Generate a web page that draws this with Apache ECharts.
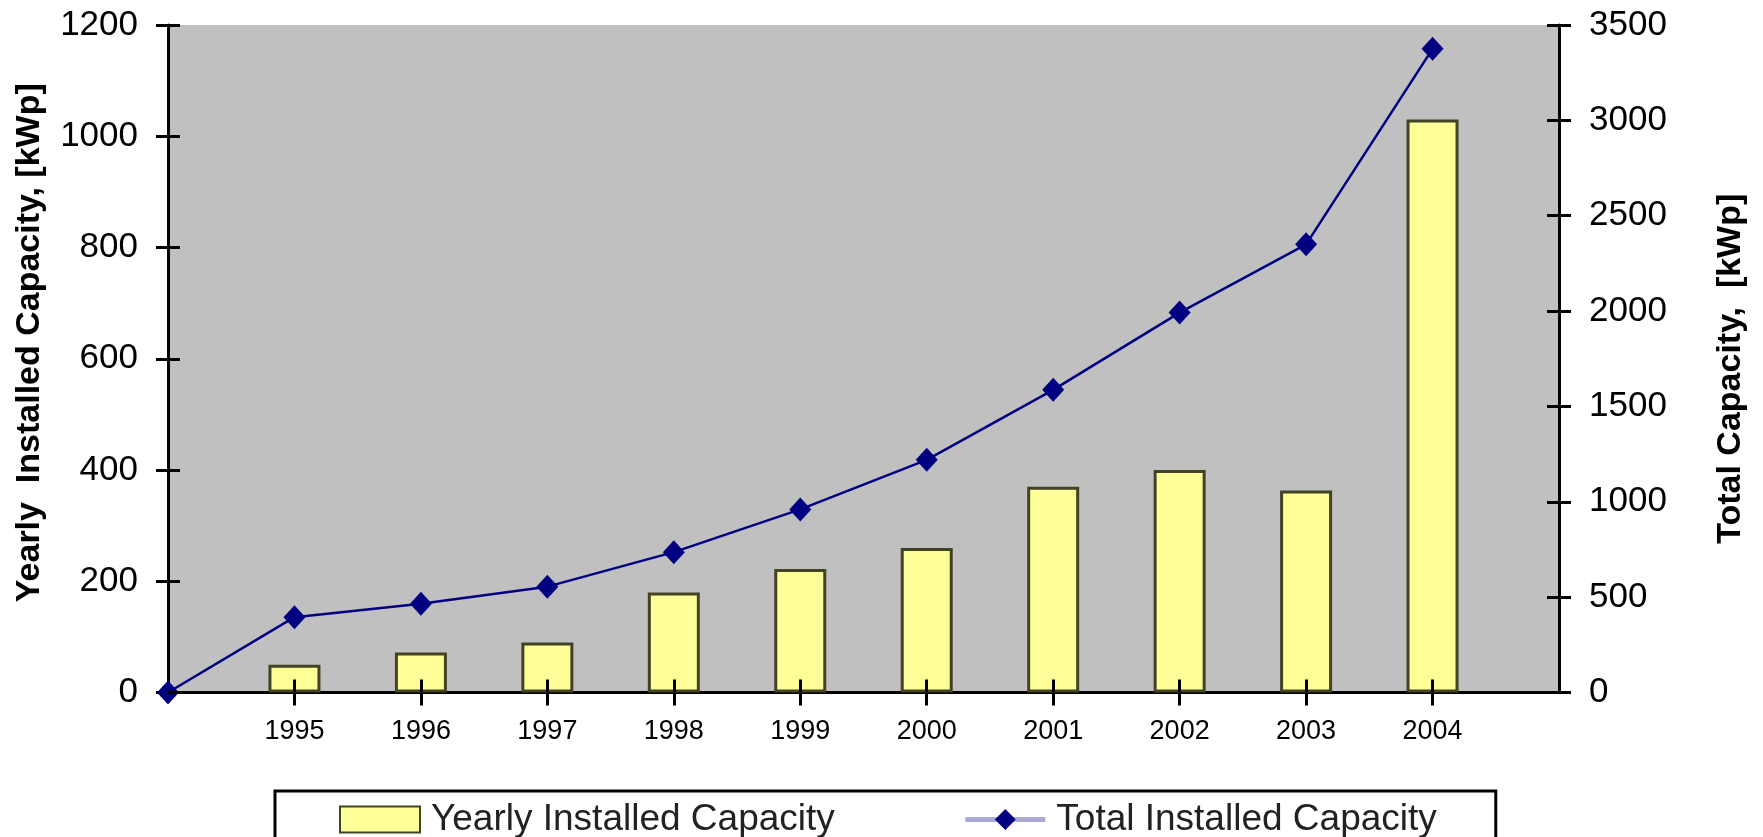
<!DOCTYPE html>
<html>
<head>
<meta charset="utf-8">
<script src="https://cdn.jsdelivr.net/npm/echarts@6/dist/echarts.min.js"></script>
<style>
  html, body { margin: 0; padding: 0; background: #fff; }
  #chart { width: 1763px; height: 837px; }
</style>
</head>
<body>
<div id="chart"></div>
<script>
// Categories (first and last slots are empty, as in the original)
const categories = ['', '1995', '1996', '1997', '1998', '1999', '2000', '2001', '2002', '2003', '2004', ''];
// Yearly installed capacity [kWp] (left axis)
const yearlyCapacity = ['-', 50, 72, 90, 180, 222, 260, 370, 400, 363, 1030, '-'];
// Total installed capacity [kWp] (right axis)
const totalCapacity = [0, 395, 465, 555, 736, 960, 1220, 1587, 1992, 2350, 3375, '-'];
// Axis ranges / tick steps
const leftAxisTicks = { min: 0, max: 1200, interval: 200 };
const rightAxisTicks = { min: 0, max: 3500, interval: 500 };

const FONT = 'Liberation Sans, Arial, sans-serif';
const chart = echarts.init(document.getElementById('chart'));

const tickShow = (i) => i > 0 && i < categories.length - 1;
const axisLineStyle = { color: '#000', width: 3 };
const hiddenLine = { color: 'rgba(0,0,0,0)', width: 1 };
const gridBox = { left: 168, right: 204, top: 25, bottom: 144.5 };

function yAxisBase(pos, ticks, inside, gridIndex) {
  return {
    type: 'value',
    gridIndex: gridIndex,
    position: pos,
    z: inside ? 10 : 0,
    min: ticks.min, max: ticks.max, interval: ticks.interval,
    axisLine: { show: true, onZero: false, lineStyle: inside ? hiddenLine : axisLineStyle },
    axisTick: { show: true, inside: inside, length: 12, lineStyle: { color: '#000', width: 3 } },
    axisLabel: { show: !inside, fontSize: 35, color: '#000', fontFamily: FONT, margin: 30,
                 formatter: (v) => String(v) },
    splitLine: { show: false }
  };
}

const yLeft = yAxisBase('left', leftAxisTicks, false, 0);
yLeft.name = 'Yearly  Installed Capacity, [kWp]';
yLeft.nameLocation = 'middle';
yLeft.nameRotate = 90;
yLeft.nameGap = 121;
yLeft.nameTextStyle = { fontSize: 34, fontWeight: 'bold', color: '#000', fontFamily: FONT, padding: [0, 0, 0, 32] };

const yRight = yAxisBase('right', rightAxisTicks, false, 0);
yRight.name = 'Total Capacity,  [kWp]';
yRight.nameLocation = 'middle';
yRight.nameRotate = 90;
yRight.nameGap = 155;
yRight.nameTextStyle = { fontSize: 34, fontWeight: 'bold', color: '#000', fontFamily: FONT, padding: [0, 20, 0, 0] };

const invisibleHelper = {
  type: 'line', xAxisIndex: 1, silent: true, symbol: 'none',
  lineStyle: { opacity: 0 }, itemStyle: { opacity: 0 }, tooltip: { show: false }
};

const option = {
  animation: false,
  backgroundColor: '#fff',
  grid: [
    Object.assign({ show: true, backgroundColor: '#c0c0c0', borderWidth: 0, z: -1 }, gridBox),
    Object.assign({ show: false, z: 5 }, gridBox)
  ],
  legend: {
    top: 791, left: 275,
    orient: 'horizontal',
    itemWidth: 80, itemHeight: 26, itemGap: 128,
    padding: [10, 59, 40, 64],
    borderColor: '#000', borderWidth: 3,
    textStyle: { fontSize: 37, color: '#222', fontFamily: FONT, padding: [0, 0, 0, 6] },
    data: [
      { name: 'Yearly Installed Capacity', icon: 'rect' },
      { name: 'Total Installed Capacity', lineStyle: { color: '#a9a9d4', width: 5 }, itemStyle: { color: '#000080' } }
    ]
  },
  xAxis: [
    {
      type: 'category', gridIndex: 0, data: categories, boundaryGap: false, position: 'bottom',
      axisLine: { show: true, onZero: false, lineStyle: axisLineStyle },
      axisTick: { show: true, length: 13, interval: tickShow, lineStyle: { color: '#000', width: 3 } },
      axisLabel: { interval: 0, fontSize: 27, color: '#000', fontFamily: FONT, margin: 26 },
      splitLine: { show: false }
    },
    {
      type: 'category', gridIndex: 1, data: categories, boundaryGap: false, position: 'bottom', z: 10,
      axisLine: { show: true, onZero: false, lineStyle: hiddenLine },
      axisTick: { show: true, inside: true, length: 13, interval: tickShow, lineStyle: { color: '#000', width: 3 } },
      axisLabel: { show: false },
      splitLine: { show: false }
    }
  ],
  yAxis: [
    yLeft,
    yRight,
    yAxisBase('left', leftAxisTicks, true, 1),
    yAxisBase('right', rightAxisTicks, true, 1)
  ],
  series: [
    {
      name: 'Yearly Installed Capacity',
      type: 'bar',
      xAxisIndex: 0, yAxisIndex: 0,
      data: yearlyCapacity,
      barWidth: 52,
      itemStyle: { color: '#ffff99', borderColor: '#424224', borderWidth: 3 }
    },
    {
      name: 'Total Installed Capacity',
      type: 'line',
      xAxisIndex: 0, yAxisIndex: 1,
      data: totalCapacity,
      clip: false,
      z: 3,
      symbol: 'diamond',
      symbolSize: [22, 24],
      lineStyle: { color: '#000080', width: 2.5 },
      itemStyle: { color: '#000080' }
    },
    // invisible helper series binding the tick-only axes (second grid) to the same data
    Object.assign({ name: 'helperYearly', yAxisIndex: 2, data: yearlyCapacity }, invisibleHelper),
    Object.assign({ name: 'helperTotal', yAxisIndex: 3, data: totalCapacity }, invisibleHelper)
  ]
};
chart.setOption(option);
</script>
</body>
</html>
